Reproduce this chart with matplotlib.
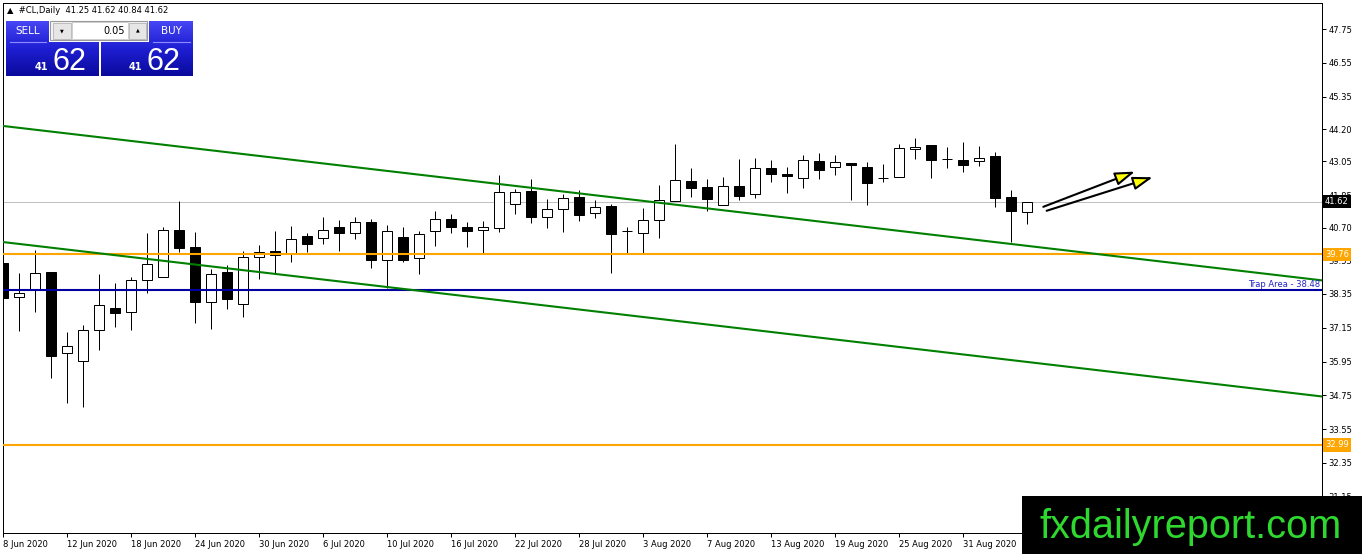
import matplotlib
matplotlib.use("Agg")
import matplotlib.pyplot as plt
import matplotlib.transforms as mtransforms
from matplotlib import font_manager
from matplotlib.patches import Rectangle, FancyArrowPatch
from matplotlib.colors import LinearSegmentedColormap
import numpy as np

# ---------------- data ----------------
opens = [39.45, 38.23, 38.51, 39.13, 36.24, 35.96, 37.06, 37.85, 37.72, 38.83,
         38.96, 40.62, 40.00, 38.05, 39.13, 37.98, 39.65, 39.86, 39.79, 40.39,
         40.32, 40.71, 40.50, 40.90, 39.56, 40.37, 39.61, 40.57, 41.01, 40.72,
         40.61, 40.68, 41.53, 42.00, 41.09, 41.35, 41.79, 41.21, 41.47, 40.57,
         40.50, 40.96, 41.64, 42.36, 42.14, 41.49, 42.18, 41.88, 42.81, 42.60,
         42.47, 43.06, 42.84, 42.99, 42.85, 42.45, 42.49, 43.48, 43.63, 43.15,
         43.09, 43.06, 43.24, 41.78, 41.25]
highs = [40.44, 39.10, 39.91, 39.13, 36.99, 37.25, 39.05, 38.73, 38.94, 40.52,
         40.71, 41.65, 40.54, 39.23, 39.36, 39.87, 40.09, 40.58, 40.76, 40.52,
         41.07, 40.97, 41.08, 41.01, 40.80, 40.71, 40.59, 41.29, 41.19, 40.90,
         40.94, 42.56, 42.07, 42.42, 41.72, 41.89, 42.04, 41.68, 41.53, 40.73,
         41.39, 42.21, 43.67, 42.81, 42.42, 42.49, 43.14, 43.17, 43.10, 42.85,
         43.28, 43.35, 43.28, 42.99, 43.03, 42.95, 43.67, 43.87, 43.63, 43.55,
         43.73, 43.60, 43.40, 42.04, 41.62]
lows = [37.96, 37.04, 37.72, 35.38, 34.47, 34.35, 36.36, 37.19, 37.07, 38.39,
        38.94, 39.85, 37.31, 37.09, 37.80, 37.52, 38.87, 39.08, 39.47, 39.85,
        40.13, 39.87, 40.31, 39.28, 38.55, 39.48, 39.06, 40.05, 40.52, 40.02,
        39.81, 40.56, 41.20, 40.88, 40.70, 40.56, 40.95, 41.03, 39.10, 39.79,
        39.79, 40.32, 41.63, 41.80, 41.29, 41.49, 41.68, 41.76, 42.33, 41.94,
        42.11, 42.43, 42.58, 41.68, 41.50, 42.31, 42.49, 43.13, 42.47, 42.83,
        42.69, 42.90, 41.44, 40.20, 40.84]
closes = [38.20, 38.37, 39.08, 36.16, 36.50, 37.06, 37.95, 37.68, 38.83, 39.40,
          40.61, 39.99, 38.07, 39.05, 38.16, 39.65, 39.83, 39.72, 40.29, 40.11,
          40.61, 40.50, 40.90, 39.56, 40.58, 39.56, 40.46, 41.00, 40.73, 40.59,
          40.71, 41.96, 41.96, 41.09, 41.35, 41.74, 41.16, 41.42, 40.49, 40.57,
          40.96, 41.67, 42.38, 42.12, 41.73, 42.17, 41.83, 42.81, 42.59, 42.52,
          43.09, 42.76, 43.02, 42.91, 42.30, 42.45, 43.52, 43.57, 43.11, 43.15,
          42.93, 43.17, 41.76, 41.28, 41.62]

date_labels = ["8 Jun 2020", "12 Jun 2020", "18 Jun 2020", "24 Jun 2020",
               "30 Jun 2020", "6 Jul 2020", "10 Jul 2020", "16 Jul 2020",
               "22 Jul 2020", "28 Jul 2020", "3 Aug 2020", "7 Aug 2020",
               "13 Aug 2020", "19 Aug 2020", "25 Aug 2020", "31 Aug 2020"]
date_label_bars = [0, 4, 8, 12, 16, 20, 24, 28, 32, 36, 40, 44, 48, 52, 56, 60]
ytick_values = [47.75, 46.55, 45.35, 44.20, 43.05, 41.85, 40.70, 39.55,
                38.35, 37.15, 35.95, 34.75, 33.55, 32.35, 31.15]

bid_price = 41.62
orange_levels = [39.76, 32.99]
trap_level = 38.48
trap_text = "Trap Area - 38.48"
channel_x = [0.0, 82.44]
channel_upper = [44.31, 38.83]
channel_lower = [40.19, 34.71]
arrow_starts = [(65.02, 41.44), (65.23, 41.30)]
arrow_ends = [(70.75, 42.69), (71.86, 42.49)]

header_text = "\u25B2  #CL,Daily  41.25 41.62 40.84 41.62"
lot_text = "0.05"
price_big = "62"
price_small = "41"
watermark = "fxdailyreport.com"

# ---------------- figure ----------------
W, H = 1362, 554
fig = plt.figure(figsize=(W / 100, H / 100), dpi=100)
fig.patch.set_facecolor("white")

ax_l, ax_r, ax_t, ax_b = 3, 1322, 3, 533
ax = fig.add_axes([ax_l / W, (H - ax_b) / H, (ax_r - ax_l) / W, (ax_b - ax_t) / H])
ax.set_xlim(0, 82.44)
ax.set_ylim(29.865, 48.673)
ax.set_facecolor("white")

o = np.array(opens); h = np.array(highs); l = np.array(lows); c = np.array(closes)
x = np.arange(len(o))
up = c > o
down = ~up

PX = 0.72  # 1 pixel in points
ax.vlines(x, l, h, color="black", lw=PX, zorder=2)
ax.bar(x[up], (c - o)[up], bottom=o[up], width=0.6, facecolor="white",
       edgecolor="black", lw=PX, zorder=3)
ax.bar(x[down], (o - c)[down], bottom=c[down], width=0.6, facecolor="black",
       edgecolor="black", lw=PX, zorder=3)

# bid line
ax.axhline(bid_price, color="#C0C0C0", lw=PX, zorder=1)
# levels
for lv in orange_levels:
    ax.axhline(lv, color="#FFA500", lw=1.5, zorder=4)
ax.axhline(trap_level, color="#0000A0", lw=1.5, zorder=4)
# channel
ax.plot(channel_x, channel_upper, color="#008000", lw=1.5, zorder=4)
ax.plot(channel_x, channel_lower, color="#008000", lw=1.5, zorder=4)

# arrows
for s, e in zip(arrow_starts, arrow_ends):
    arr = FancyArrowPatch(s, e, arrowstyle="-|>,head_length=1.2,head_width=0.4",
                          mutation_scale=10, facecolor="#FFFF00", edgecolor="black",
                          lw=1.5, shrinkA=0, shrinkB=0, zorder=6)
    ax.add_patch(arr)

# trap area text
btrans = mtransforms.blended_transform_factory(ax.transAxes, ax.transData)
ax.text(1 - 2 / (ax_r - ax_l), trap_level + 0.04, trap_text, transform=btrans,
        ha="right", va="bottom", fontsize=6, color="#2424C8", zorder=7)

# axes styling
for sp in ax.spines.values():
    sp.set_color("black")
    sp.set_linewidth(PX)
ax.yaxis.tick_right()
ax.set_yticks(ytick_values)
ax.set_yticklabels([f"{v:.2f}" for v in ytick_values])
ax.tick_params(axis="y", which="both", right=True, left=False, direction="out",
               length=3, width=PX, labelsize=6, pad=1.5, colors="black")
ax.set_xticks(date_label_bars)
ax.set_xticklabels(date_labels)
for t in ax.get_xticklabels():
    t.set_horizontalalignment("left")
ax.tick_params(axis="x", which="both", bottom=True, top=False, direction="out",
               length=3, width=PX, labelsize=6, pad=2, colors="black")

# price boxes on right axis
xoff = 1 + 3 / (ax_r - ax_l)
ax.text(xoff, bid_price, f"{bid_price:.2f}", transform=btrans, ha="left", va="center",
        fontsize=6, color="white", clip_on=False, zorder=10,
        bbox=dict(boxstyle="square,pad=0.25", fc="black", ec="none"))
for lv in orange_levels:
    ax.text(xoff, lv, f"{lv:.2f}", transform=btrans, ha="left", va="center",
            fontsize=6, color="white", clip_on=False, zorder=10,
            bbox=dict(boxstyle="square,pad=0.25", fc="#FFA500", ec="none"))

# ---------------- overlay (pixel coords) ----------------
ov = fig.add_axes([0, 0, 1, 1], zorder=5)
ov.set_xlim(0, W); ov.set_ylim(H, 0)
ov.axis("off")
ov.patch.set_visible(False)

fig.text(7 / W, 1 - 10.5 / H, header_text, fontsize=6, color="black", va="center", ha="left")

cmap = LinearSegmentedColormap.from_list("mtblue", ["#4646F5", "#1E1ED2", "#0A0A9C"])
grad = np.linspace(21, 76, 120).reshape(-1, 1)
for (x0, x1, y0, y1) in [(6, 49, 21, 42), (149, 193, 21, 42), (6, 99, 42, 76), (101, 193, 42, 76)]:
    seg = grad[(grad[:, 0] >= y0 - 1) & (grad[:, 0] <= y1 + 1)]
    ov.imshow(seg, extent=[x0, x1, y1, y0], aspect="auto", cmap=cmap, vmin=21, vmax=76,
              interpolation="bilinear", zorder=1)
ov.set_xlim(0, W); ov.set_ylim(H, 0)
# light divider lines under SELL / BUY
ov.plot([10, 46], [42, 42], color="#8C8CFF", lw=0.8, zorder=2)
ov.plot([153, 190], [42, 42], color="#8C8CFF", lw=0.8, zorder=2)
# spin control
ov.add_patch(Rectangle((50, 21), 97, 19, fc="#F4F4F4", ec="#9A9A9A", lw=0.8, zorder=2))
ov.add_patch(Rectangle((72, 22), 56, 17, fc="white", ec="#C8C8C8", lw=0.6, zorder=3))
ov.add_patch(Rectangle((53, 22.5), 18, 16, fc="#E6E6E6", ec="#B4B4B4", lw=0.6, zorder=3))
ov.add_patch(Rectangle((129, 22.5), 17, 16, fc="#E6E6E6", ec="#B4B4B4", lw=0.6, zorder=3))
ov.text(62, 30.5, "\u25BC", fontsize=3.5, ha="center", va="center", color="black", zorder=4)
ov.text(137.5, 30, "\u25B2", fontsize=3.5, ha="center", va="center", color="black", zorder=4)
ov.text(125, 30.5, lot_text, fontsize=7, ha="right", va="center", color="black", zorder=4)
ov.text(27.5, 31, "SELL", fontsize=7.5, ha="center", va="center", color="white", zorder=4)
ov.text(171, 31, "BUY", fontsize=7.5, ha="center", va="center", color="white", zorder=4)
for xs, xb in [(35, 52), (129, 146)]:
    ov.text(xs, 70, price_small, fontsize=7, fontweight="bold", ha="left", va="baseline",
            color="white", family="DejaVu Sans", zorder=4)
    ov.text(xb, 70, price_big, fontsize=22, ha="left", va="baseline", color="white",
            family="Liberation Sans", zorder=4)

# watermark
ov.add_patch(Rectangle((1022, 496), 340, 58, fc="black", ec="none", zorder=6))
try:
    font_manager.findfont(font_manager.FontProperties(family="Liberation Sans Narrow"),
                          fallback_to_default=False)
    wm_family, wm_size = "Liberation Sans Narrow", 33
except Exception:
    wm_family, wm_size = "Liberation Sans", 28.6
ov.text(1039, 538, watermark, fontsize=wm_size, family=wm_family, color="#2FD82F",
        ha="left", va="baseline", zorder=7)

fig.savefig("out.png", dpi=100, facecolor="white")
